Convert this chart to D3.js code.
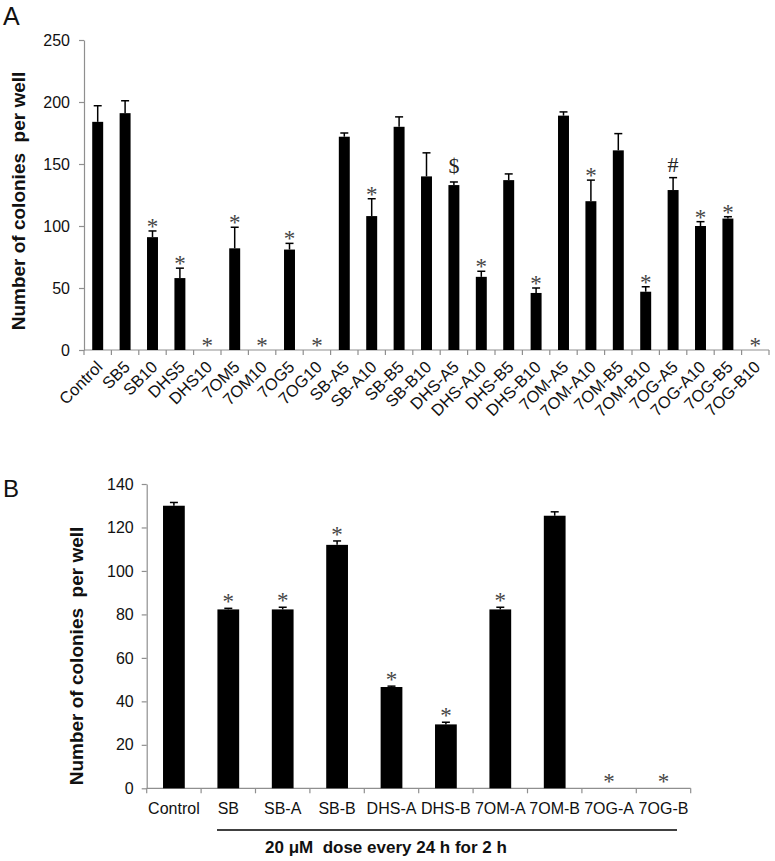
<!DOCTYPE html>
<html><head><meta charset="utf-8">
<script src="https://cdn.jsdelivr.net/npm/d3@7"></script>
<style>
body{margin:0;background:#fff}
text{font-family:"Liberation Sans",Arial,Helvetica,sans-serif}
.pre{white-space:pre}
</style>
</head><body>
<svg id="chart" width="775" height="861"></svg>
<script>
// ---------- Panel A data ----------
const catsA = ["Control","SB5","SB10","DHS5","DHS10","7OM5","7OM10","7OG5","7OG10",
  "SB-A5","SB-A10","SB-B5","SB-B10","DHS-A5","DHS-A10","DHS-B5","DHS-B10",
  "7OM-A5","7OM-A10","7OM-B5","7OM-B10","7OG-A5","7OG-A10","7OG-B5","7OG-B10"];
const valsA = [184,191,91,58,0,82,0,81,0,172,108,180,140,133,59,137,46,189,120,161,47,129,100,106,0];
const errA  = [13,10,5,8,0,17,0,5,0,3,14,8,19,2.5,4.5,5,4,3,17,13.5,4,10,3.5,1.5,0];
const marksA = ["","","*","*","*","*","*","*","*","","*","","","$","*","","*","","*","","*","#","*","*","*"];
const ticksA = [0,50,100,150,200,250];

// ---------- Panel B data ----------
const catsB = ["Control","SB","SB-A","SB-B","DHS-A","DHS-B","7OM-A","7OM-B","7OG-A","7OG-B"];
const valsB = [130,82.3,82.3,112,46.6,29.4,82.3,125.4,0,0];
const errB  = [1.5,0.5,1,1.8,0.4,1,1,1.8,0,0];
const marksB = ["","*","*","*","*","*","*","","*","*"];
const ticksB = [0,20,40,60,80,100,120,140];

const yTitle = "Number of colonies  per well";
const noteB = "20 \u03BCM  dose every 24 h for 2 h";

const svg = d3.select("#chart");
const axisGray = "#8f8f8f";
const serif = '"Liberation Serif","Times New Roman",serif';

function markOffset(m){ return m==="$" ? -9 : (m==="#" ? -6 : 3); }

function panel(cfg){
  const {cats, vals, errs, marks, ticks, x0, x1, yTop, yBot, tickFont, rotate, markDy} = cfg;
  const x = d3.scaleBand().domain(cats).range([x0, x1]).paddingInner(0.6).paddingOuter(0.3);
  const xb = d3.scaleBand().domain(cats).range([x0, x1]);
  const y = d3.scaleLinear().domain([0, ticks[ticks.length-1]]).range([yBot, yTop]);
  const g = svg.append("g");

  // y axis
  const ya = g.append("g").attr("transform", `translate(${x0},0)`)
    .call(d3.axisLeft(y).tickValues(ticks).tickSize(5).tickPadding(cfg.tickPad).tickSizeOuter(0));
  ya.select(".domain").attr("stroke", axisGray).attr("stroke-width", 1.2);
  ya.selectAll(".tick line").attr("stroke", axisGray).attr("stroke-width", 1.2);
  ya.selectAll(".tick text").attr("font-size", tickFont).attr("fill", "#111")
    .attr("font-family", '"Liberation Sans",Arial,sans-serif');

  // x axis line + boundary ticks
  g.append("line").attr("x1", x0).attr("x2", x1).attr("y1", yBot).attr("y2", yBot)
    .attr("stroke", axisGray).attr("stroke-width", 1.2);
  const bounds = cats.map(c => xb(c)).concat([x1]);
  g.selectAll("line.bt").data(bounds).join("line").attr("class","bt")
    .attr("x1", d=>d).attr("x2", d=>d).attr("y1", yBot).attr("y2", yBot+5)
    .attr("stroke", axisGray).attr("stroke-width", 1.2);

  // bars
  g.selectAll("rect.bar").data(cats).join("rect").attr("class","bar")
    .attr("x", c => x(c)).attr("width", x.bandwidth())
    .attr("y", (c,i) => y(vals[i])).attr("height", (c,i) => yBot - y(vals[i]))
    .attr("fill", "#000");

  // error bars (upper only)
  const eg = g.selectAll("g.err").data(cats.map((c,i)=>({c, v:vals[i], e:errs[i]})).filter(d=>d.e>0))
    .join("g").attr("class","err");
  eg.append("line").attr("x1", d=>x(d.c)+x.bandwidth()/2).attr("x2", d=>x(d.c)+x.bandwidth()/2)
    .attr("y1", d=>y(d.v)).attr("y2", d=>y(d.v+d.e)).attr("stroke","#000").attr("stroke-width",1.5);
  eg.append("line").attr("x1", d=>x(d.c)+x.bandwidth()/2-4).attr("x2", d=>x(d.c)+x.bandwidth()/2+4)
    .attr("y1", d=>y(d.v+d.e)).attr("y2", d=>y(d.v+d.e)).attr("stroke","#000").attr("stroke-width",1.5);

  // significance marks
  const mg = g.append("g").attr("opacity", 0.99);
  mg.selectAll("text.mk").data(cats.map((c,i)=>({c, v:vals[i]+errs[i], m:marks[i]})).filter(d=>d.m))
    .join("text").attr("class","mk")
    .attr("x", d=>x(d.c)+x.bandwidth()/2)
    .attr("y", d=>y(d.v) + markOffset(d.m) + (d.m==="*" ? markDy : 0))
    .attr("text-anchor","middle")
    .attr("font-size", d=> d.m==="*" ? 23 : 22)
    .attr("fill", d=> d.m==="*" ? "#444" : "#222")
    .style("font-family", serif)
    .text(d=>d.m);

  // category labels
  if (rotate){
    g.selectAll("text.cl").data(cats).join("text").attr("class","cl")
      .attr("transform", c => `translate(${x(c)+x.bandwidth()/2+6},${yBot+18}) rotate(-45)`)
      .attr("text-anchor","end").attr("font-size",16.5).attr("fill","#111").text(c=>c);
  } else {
    g.selectAll("text.cl").data(cats).join("text").attr("class","cl")
      .attr("x", c => x(c)+x.bandwidth()/2).attr("y", yBot+26)
      .attr("text-anchor","middle").attr("font-size",16).attr("fill","#111").text(c=>c);
  }
  return {x, y, g};
}

// Panel A
panel({cats:catsA, vals:valsA, errs:errA, marks:marksA, ticks:ticksA,
  x0:84, x1:769, yTop:40, yBot:350, tickFont:16, tickPad:9, rotate:true, markDy:0});
svg.append("text").attr("x",3).attr("y",25).attr("font-size",25).attr("fill","#111").text("A");
svg.append("text").attr("class","pre")
  .attr("transform","translate(25,201) rotate(-90)")
  .attr("text-anchor","middle").attr("font-size",19).attr("font-weight","bold").attr("fill","#111")
  .text(yTitle);

// Panel B
panel({cats:catsB, vals:valsB, errs:errB, marks:marksB, ticks:ticksB,
  x0:146.7, x1:690.7, yTop:484, yBot:788.3, tickFont:16, tickPad:8, rotate:false, markDy:-2});
svg.append("text").attr("x",3).attr("y",497).attr("font-size",24).attr("fill","#111").text("B");
svg.append("text").attr("class","pre")
  .attr("transform","translate(83,656) rotate(-90)")
  .attr("text-anchor","middle").attr("font-size",19).attr("font-weight","bold").attr("fill","#111")
  .text(yTitle);
svg.append("line").attr("x1",217).attr("x2",677).attr("y1",830).attr("y2",830)
  .attr("stroke","#000").attr("stroke-width",1.5);
svg.append("text").attr("class","pre").attr("x",265).attr("y",853)
  .attr("font-size",17).attr("font-weight","bold").attr("fill","#111").text(noteB);
</script>
</body></html>
